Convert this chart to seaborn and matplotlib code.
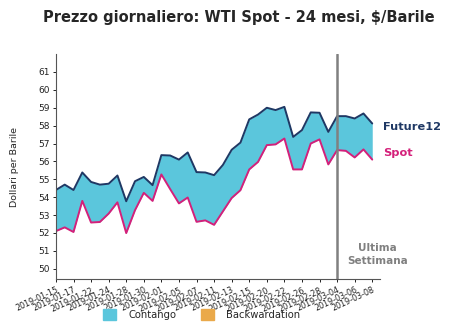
import matplotlib
matplotlib.use("Agg")
import matplotlib.pyplot as plt
import matplotlib.patches as mpatches
import numpy as np
import pandas as pd
import seaborn as sns

# Trading days shown on the x axis
dates = [
    "2019-01-15", "2019-01-16", "2019-01-17", "2019-01-18", "2019-01-22", "2019-01-23",
    "2019-01-24", "2019-01-25", "2019-01-28", "2019-01-29", "2019-01-30", "2019-01-31",
    "2019-02-01", "2019-02-04", "2019-02-05", "2019-02-06", "2019-02-07", "2019-02-08",
    "2019-02-11", "2019-02-12", "2019-02-13", "2019-02-14", "2019-02-15", "2019-02-19",
    "2019-02-20", "2019-02-21", "2019-02-22", "2019-02-25", "2019-02-26", "2019-02-27",
    "2019-02-28", "2019-03-01", "2019-03-04", "2019-03-05", "2019-03-06", "2019-03-07",
    "2019-03-08",
]

# Prices, $/barrel
future12 = [
    54.40, 54.70, 54.40, 55.38, 54.85, 54.70, 54.75, 55.21, 53.77, 54.89,
    55.13, 54.67, 56.35, 56.33, 56.10, 56.50, 55.40, 55.38, 55.23, 55.80,
    56.65, 57.05, 58.35, 58.62, 59.00, 58.87, 59.05, 57.37, 57.75, 58.74,
    58.72, 57.65, 58.53, 58.53, 58.40, 58.68, 58.12,
]
spot = [
    52.10, 52.31, 52.05, 53.79, 52.58, 52.61, 53.08, 53.71, 51.99, 53.27,
    54.24, 53.79, 55.27, 54.45, 53.65, 53.98, 52.62, 52.70, 52.45, 53.20,
    53.95, 54.39, 55.55, 55.97, 56.91, 56.95, 57.28, 55.55, 55.55, 57.00,
    57.23, 55.83, 56.63, 56.59, 56.22, 56.67, 56.10,
]
yticks = list(range(50, 62))
last_week_start = "2019-03-04"

C_FUT = "#1f3864"
C_SPOT = "#d4207a"
C_CONT = "#5bc6dc"
C_BACK = "#eaa94a"
C_GRAY = "#808080"

df = pd.DataFrame({"date": dates, "Future12": future12, "Spot": spot})
df["pos"] = np.arange(len(df))

sns.set_theme(style="ticks")
plt.rcParams["font.family"] = ["DejaVu Sans"]

fig = plt.figure(figsize=(4.74, 3.26), dpi=100)
ax = fig.add_axes([0.118, 0.143, 0.684, 0.691])

x = df["pos"].to_numpy()
f = df["Future12"].to_numpy()
s = df["Spot"].to_numpy()
ax.fill_between(x, s, f, where=f >= s, color=C_CONT, interpolate=True, lw=0)
ax.fill_between(x, s, f, where=f < s, color=C_BACK, interpolate=True, lw=0)

sns.lineplot(data=df, x="pos", y="Future12", color=C_FUT, lw=1.4, ax=ax)
sns.lineplot(data=df, x="pos", y="Spot", color=C_SPOT, lw=1.4, ax=ax)

vpos = dates.index(last_week_start)
ax.axvline(vpos, color=C_GRAY, lw=1.8)
ax.text(36.6, 50.8, "Ultima\nSettimana", color=C_GRAY, fontsize=7.5, fontweight="bold",
        ha="center", va="center", linespacing=1.35)

ax.text(37.2, 57.9, "Future12", color=C_FUT, fontsize=8.2, fontweight="bold",
        ha="left", va="center", clip_on=False)
ax.text(37.2, 56.48, "Spot", color=C_SPOT, fontsize=8.2, fontweight="bold",
        ha="left", va="center", clip_on=False)

ax.set_xlim(0, 36.9)
ax.set_ylim(49.4, 62.0)
ax.set_yticks(yticks)
ax.set_yticklabels([str(v) for v in yticks], fontsize=6.5)
ax.set_xticks(x[::2])
ax.set_xticklabels(df["date"][::2], fontsize=5.8, rotation=25, ha="right",
                   rotation_mode="anchor")
ax.tick_params(axis="both", length=2.5, width=0.7, pad=2, colors="#222222")
ax.set_xlabel("")
ax.set_ylabel("Dollari per Barile", fontsize=6.8, labelpad=14)
sns.despine(ax=ax)
for sp in ("left", "bottom"):
    ax.spines[sp].set_linewidth(0.8)
    ax.spines[sp].set_color("#555555")

fig.suptitle("Prezzo giornaliero: WTI Spot - 24 mesi, $/Barile", fontsize=10.5,
             fontweight="bold", x=0.503, y=0.97)

handles = [mpatches.Patch(color=C_CONT, label="Contango"),
           mpatches.Patch(color=C_BACK, label="Backwardation")]
fig.legend(handles=handles, loc="center", bbox_to_anchor=(0.426, 0.034), ncol=2,
           frameon=False, fontsize=7.2, handlelength=1.3, handleheight=1.3,
           columnspacing=2.5, handletextpad=1.2)

fig.savefig("out.png", dpi=100)
